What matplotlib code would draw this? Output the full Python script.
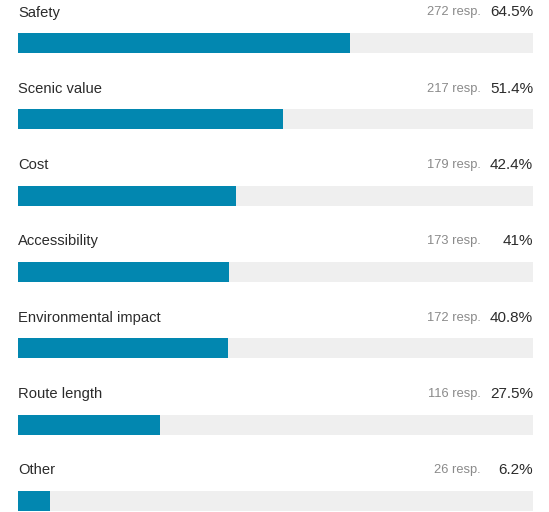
import matplotlib
matplotlib.use("Agg")
import matplotlib.pyplot as plt

categories = ["Safety", "Scenic value", "Cost", "Accessibility",
              "Environmental impact", "Route length", "Other"]
responses = [272, 217, 179, 173, 172, 116, 26]
percents = [64.5, 51.4, 42.4, 41, 40.8, 27.5, 6.2]
pct_labels = ["64.5%", "51.4%", "42.4%", "41%", "40.8%", "27.5%", "6.2%"]

W, H = 549, 512
fig = plt.figure(figsize=(W / 100, H / 100), dpi=100)
left, right = 18, 533
ax = fig.add_axes([left / W, 0, (right - left) / W, 1])
ax.set_xlim(0, 100)
ax.set_ylim(H, 0)
ax.axis("off")

plt.rcParams["font.family"] = ["Liberation Sans", "DejaVu Sans"]

row0_label = 12.5
row_step = 76.3
bar_offset = 30.5
bar_h = 20
fill_color = "#0287B0"
track_color = "#EFEFEF"
resp_x = (481 - left) / (right - left) * 100

for i, (cat, r, p, pl) in enumerate(zip(categories, responses, percents, pct_labels)):
    ly = row0_label + i * row_step
    by = ly + bar_offset
    ax.barh(by, 100, height=bar_h, left=0, color=track_color, linewidth=0)
    ax.barh(by, p, height=bar_h, left=0, color=fill_color, linewidth=0)
    ax.text(0, ly, cat, ha="left", va="center", fontsize=10.6, color="#2b2b2b")
    ax.text(resp_x, ly, f"{r} resp.", ha="right", va="center", fontsize=9.3, color="#8a8a8a")
    ax.text(100, ly, pl, ha="right", va="center", fontsize=11, color="#2b2b2b")

fig.savefig("out.png", dpi=100)
